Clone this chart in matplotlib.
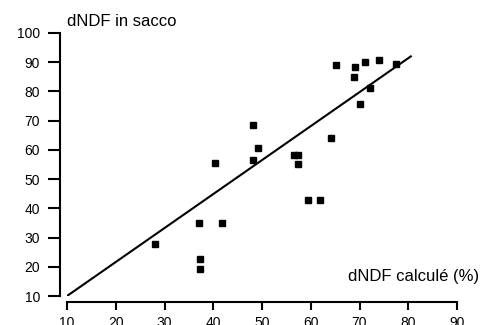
import matplotlib
matplotlib.use('Agg')
import matplotlib.pyplot as plt

plt.rcParams['font.family'] = ['Liberation Sans', 'DejaVu Sans']

# dNDF calculé (%) vs dNDF in sacco
x_calc = [28.0, 37.0, 37.3, 37.3, 41.8, 40.3, 48.1, 49.1, 48.1, 56.6, 57.3, 57.3,
          64.1, 65.1, 68.8, 69.1, 71.2, 74.1, 77.4, 72.1, 70.0, 59.4, 61.8]
y_sacco = [27.8, 35.0, 22.7, 19.2, 35.0, 55.5, 68.6, 60.6, 56.5, 58.3, 58.3, 55.2,
           64.0, 88.9, 84.9, 88.2, 90.0, 90.6, 89.5, 81.3, 75.6, 42.9, 42.9]

# droite de régression
line_x = [10, 80.7]
line_y = [10, 92.2]

xticks = [10, 20, 30, 40, 50, 60, 70, 80, 90]
yticks = [10, 20, 30, 40, 50, 60, 70, 80, 90, 100]

fig = plt.figure(figsize=(4.83, 3.25), dpi=100)
ax = fig.add_axes([67/483, 29/325, 390/483, 263/325])

ax.plot(line_x, line_y, color='black', lw=1.5, solid_capstyle='butt')
ax.plot(x_calc, y_sacco, 's', color='black', ms=4.5, mec='black')

ax.set_xlim(10, 90)
ax.set_ylim(10, 100)
ax.set_xticks(xticks)
ax.set_yticks(yticks)

for s in ['top', 'right']:
    ax.spines[s].set_visible(False)
ax.spines['left'].set_position(('outward', 5))
ax.spines['bottom'].set_position(('outward', 4.3))
ax.spines['left'].set_linewidth(1.5)
ax.spines['bottom'].set_linewidth(1.5)

ax.tick_params(axis='y', length=8.5, width=1.5, labelsize=10, pad=6)
ax.tick_params(axis='x', length=6, width=1.5, labelsize=10, pad=4)

fig.text(67/483, 1 - 22/325, 'dNDF in sacco', fontsize=12, va='center', ha='left')
fig.text(479/483, 1 - 277/325, 'dNDF calculé (%)', fontsize=12, va='center', ha='right')

fig.savefig('out.png', dpi=100)
